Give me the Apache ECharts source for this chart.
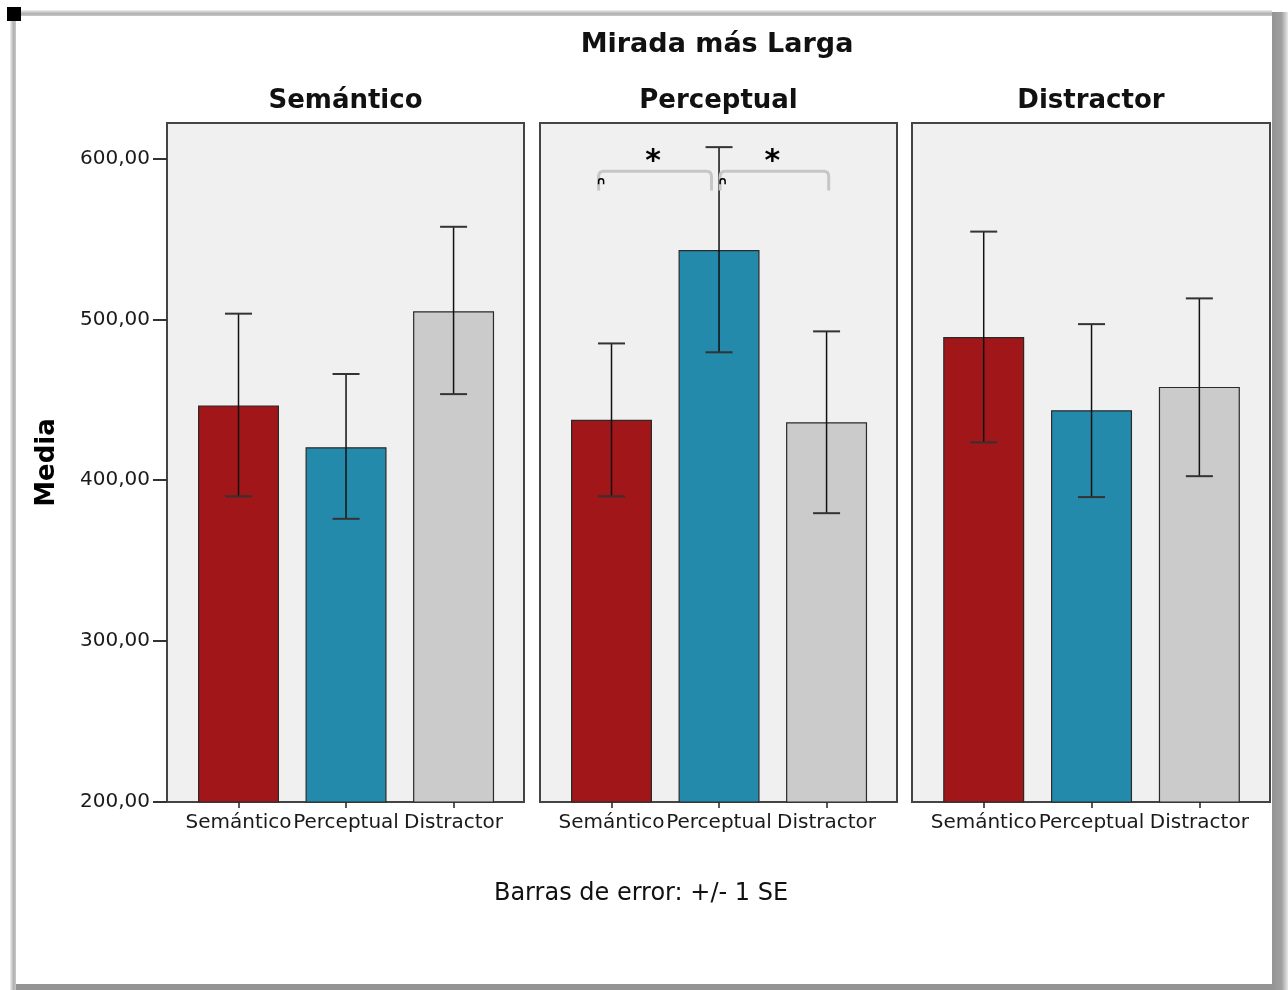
<!DOCTYPE html>
<html>
<head>
<meta charset="utf-8">
<script src="https://cdn.jsdelivr.net/npm/echarts@6/dist/echarts.min.js"></script>
<style>
  html, body { margin: 0; padding: 0; background: #fff; }
  #chart { width: 1288px; height: 990px; }
</style>
</head>
<body>
<div id="chart"></div>
<script>
// datos
const categories = ['Semántico', 'Perceptual', 'Distractor']
const panels = ['Semántico', 'Perceptual', 'Distractor']
const yTicks = [200, 300, 400, 500, 600]

// medias por panel
const meanSemantico = [446.5, 420.5, 505]
const meanPerceptual = [437.5, 543, 436]
const meanDistractor = [489, 443.5, 458]

// límites de error (+/- 1 SE)
const lowSemantico = [390, 376, 453.5]
const highSemantico = [503.5, 466, 557.5]
const lowPerceptual = [390, 479.5, 379.5]
const highPerceptual = [485, 607, 492.5]
const lowDistractor = [423.5, 389.5, 402.5]
const highDistractor = [554.5, 497, 513]

// corchetes de significación en el panel Perceptual: [x inicio, x fin, y arriba, y abajo]
const brackets = [[-0.12, 0.93, 592, 580], [1.01, 2.02, 592, 580]]

const barColors = ['#a11618', '#248aab', '#cbcbcb']
const font = 'DejaVu Sans'

const means = [meanSemantico, meanPerceptual, meanDistractor]
const lows = [lowSemantico, lowPerceptual, lowDistractor]
const highs = [highSemantico, highPerceptual, highDistractor]

const gridLefts = [167, 540, 912]
const gridWidths = [357, 357, 358]

// barras de error
const renderError = (params, api) => {
  const x = api.value(0)
  const lo = api.coord([x, api.value(1)])
  const hi = api.coord([x, api.value(2)])
  const hw = 13.5
  return {
    type: 'group',
    children: [
      { type: 'line', shape: { x1: lo[0], y1: lo[1], x2: hi[0], y2: hi[1] }, style: { stroke: '#111', lineWidth: 1.5 } },
      { type: 'line', shape: { x1: hi[0] - hw, y1: hi[1], x2: hi[0] + hw, y2: hi[1] }, style: { stroke: '#333', lineWidth: 2 } },
      { type: 'line', shape: { x1: lo[0] - hw, y1: lo[1], x2: lo[0] + hw, y2: lo[1] }, style: { stroke: '#333', lineWidth: 2 } }
    ]
  }
}

// corchetes con asterisco
const renderBracket = (params, api) => {
  const a = api.coord([api.value(0), api.value(2)])
  const b = api.coord([api.value(1), api.value(3)])
  const x1 = a[0], x2 = b[0], yt = a[1], yb = b[1]
  const r = 5
  const path = `M${x1} ${yb} L${x1} ${yt + r} Q${x1} ${yt} ${x1 + r} ${yt} L${x2 - r} ${yt} Q${x2} ${yt} ${x2} ${yt + r} L${x2} ${yb}`
  const mx = x1 + 2.5, my = yt + 10
  const arch = `M${mx - 2.5} ${my + 3} L${mx - 2.5} ${my} Q${mx - 2.5} ${my - 2.5} ${mx} ${my - 2.5} Q${mx + 2.5} ${my - 2.5} ${mx + 2.5} ${my} L${mx + 2.5} ${my + 3}`
  return {
    type: 'group',
    children: [
      { type: 'path', shape: { pathData: path }, style: { stroke: '#c6c6c6', lineWidth: 3, fill: null } },
      { type: 'path', shape: { pathData: arch }, style: { stroke: '#000', lineWidth: 1.5, fill: null } },
      { type: 'text', x: (x1 + x2) / 2 - 2, y: yt - 9, style: { text: '*', font: `bold 30px "${font}"`, fill: '#000', align: 'center', verticalAlign: 'middle' } }
    ]
  }
}

const chart = echarts.init(document.getElementById('chart'))

const grid = gridLefts.map((l, i) => ({
  left: l,
  width: gridWidths[i],
  top: 123,
  height: 679,
  show: true,
  backgroundColor: '#f0f0f0',
  borderColor: '#444',
  borderWidth: 2
}))

const xAxis = panels.map((p, i) => ({
  type: 'value',
  gridIndex: i,
  min: -0.665,
  max: 2.655,
  splitLine: { show: false },
  axisLine: { show: false, onZero: false },
  axisTick: { show: true, length: 6, customValues: [0, 1, 2], lineStyle: { color: '#222', width: 1.5 } },
  axisLabel: {
    customValues: [0, 1, 2],
    formatter: v => categories[Math.round(v)],
    fontFamily: font,
    fontSize: 20,
    color: '#1a1a1a',
    margin: 11
  }
}))

const yAxis = panels.map((p, i) => ({
  type: 'value',
  gridIndex: i,
  min: 200,
  max: 622,
  splitLine: { show: false },
  axisLine: { show: false, onZero: false },
  axisTick: { show: i === 0, length: 14, customValues: yTicks, lineStyle: { color: '#333', width: 2 } },
  axisLabel: {
    show: i === 0,
    customValues: yTicks,
    formatter: v => v.toFixed(2).replace('.', ','),
    fontFamily: font,
    fontSize: 20,
    color: '#1a1a1a',
    margin: 17
  },
  name: i === 0 ? 'Media' : '',
  nameLocation: 'middle',
  nameGap: 107,
  nameRotate: 90,
  nameTextStyle: { fontFamily: font, fontSize: 26, fontWeight: 'bold', color: '#000' }
}))

const series = []
panels.forEach((p, i) => {
  series.push({
    type: 'bar',
    xAxisIndex: i,
    yAxisIndex: i,
    barWidth: 81,
    data: means[i].map((v, j) => [j, v]),
    itemStyle: {
      color: params => barColors[params.dataIndex],
      borderColor: '#2a2a2a',
      borderWidth: 1.2
    },
    silent: true
  })
  series.push({
    type: 'custom',
    xAxisIndex: i,
    yAxisIndex: i,
    renderItem: renderError,
    data: means[i].map((v, j) => [j, lows[i][j], highs[i][j]]),
    z: 5,
    silent: true
  })
})
series.push({
  type: 'custom',
  xAxisIndex: 1,
  yAxisIndex: 1,
  renderItem: renderBracket,
  data: brackets,
  clip: false,
  z: 6,
  silent: true
})

const titles = [
  { text: 'Mirada más Larga', left: 717, top: 45, size: 27 },
  ...panels.map((p, i) => ({ text: p, left: gridLefts[i] + gridWidths[i] / 2, top: 101, size: 26 })),
  { text: 'Barras de error: +/- 1 SE', left: 641, top: 894, size: 24, normal: true }
].map(t => ({
  text: t.text,
  left: t.left,
  top: t.top,
  textAlign: 'center',
  textVerticalAlign: 'middle',
  padding: 0,
  textStyle: {
    fontFamily: font,
    fontSize: t.size,
    fontWeight: t.normal ? 'normal' : 'bold',
    color: '#111'
  }
}))

const option = {
  animation: false,
  backgroundColor: '#fff',
  title: titles,
  grid,
  xAxis,
  yAxis,
  series,
  // marco de la página
  graphic: [
    { type: 'rect', shape: { x: 1272, y: 12, width: 16, height: 978 }, style: { fill: new echarts.graphic.LinearGradient(0, 0, 1, 0, [{ offset: 0, color: '#949494' }, { offset: 0.6, color: '#a0a0a0' }, { offset: 1, color: '#e8e8e8' }]) }, silent: true },
    { type: 'rect', shape: { x: 14, y: 984, width: 1258, height: 6 }, style: { fill: '#949494' }, silent: true },
    { type: 'rect', shape: { x: 14, y: 10, width: 1258, height: 6 }, style: { fill: new echarts.graphic.LinearGradient(0, 0, 0, 1, [{ offset: 0, color: '#f0f0f0' }, { offset: 0.6, color: '#b0b0b0' }, { offset: 1, color: '#c8c8c8' }]) }, silent: true },
    { type: 'rect', shape: { x: 10, y: 14, width: 6, height: 976 }, style: { fill: new echarts.graphic.LinearGradient(0, 0, 1, 0, [{ offset: 0, color: '#f0f0f0' }, { offset: 0.6, color: '#b0b0b0' }, { offset: 1, color: '#c8c8c8' }]) }, silent: true },
    { type: 'rect', shape: { x: 7, y: 7, width: 14, height: 14 }, style: { fill: '#000' }, silent: true }
  ]
}

chart.setOption(option)
window.addEventListener('resize', () => chart.resize())
</script>
</body>
</html>
